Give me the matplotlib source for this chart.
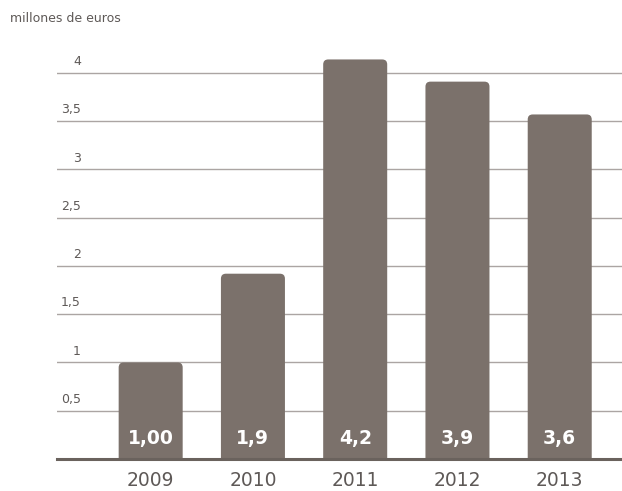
import matplotlib
matplotlib.use("Agg")
import matplotlib.pyplot as plt
from matplotlib.patches import FancyBboxPatch
import matplotlib.transforms as mtransforms

years = ["2009", "2010", "2011", "2012", "2013"]
values = [1.0, 1.92, 4.14, 3.91, 3.57]
value_labels = ["1,00", "1,9", "4,2", "3,9", "3,6"]
yticks = [0.5, 1, 1.5, 2, 2.5, 3, 3.5, 4]
ytick_labels = ["0,5", "1", "1,5", "2", "2,5", "3", "3,5", "4"]
unit_label = "millones de euros"

bar_color = "#7b716b"
grid_color = "#aba5a3"
text_color = "#5e5957"

fig = plt.figure(figsize=(6.22, 4.91), dpi=100)
ax = fig.add_axes([57/622, 32/491, 565/622, 415/491])
ax.set_xlim(-0.916, 4.609)
ax.set_ylim(0, 4.3)

for s in ax.spines.values():
    s.set_visible(False)

# gridlines
for t in yticks:
    ax.axhline(t, color=grid_color, lw=1.0, zorder=1)
ax.axhline(0, color="#6a625d", lw=2.2, zorder=4, clip_on=False)

x = list(range(len(years)))
width = 0.626
bars = ax.bar(x, values, width=width, color=bar_color, zorder=2)
# rounded top corners
r = 5 / 102.25
aspect = 102.25 / 96.5
for b in bars:
    b.set_visible(False)
    x0 = b.get_x()
    h = b.get_height()
    p = FancyBboxPatch((x0, -0.2), b.get_width(), h + 0.2,
                       boxstyle=f"round,pad=0,rounding_size={r}",
                       mutation_aspect=aspect, facecolor=bar_color,
                       edgecolor="none", zorder=2)
    ax.add_patch(p)

for xi, lab in zip(x, value_labels):
    ax.text(xi, 0.215, lab, ha="center", va="center", color="white",
            fontsize=13.5, fontweight="bold", zorder=5)

ax.set_yticks([])
trans = mtransforms.blended_transform_factory(ax.transAxes, ax.transData)
for t, lab in zip(yticks, ytick_labels):
    ax.text(0.0425, t + 0.05, lab, transform=trans, ha="right", va="bottom",
            color=text_color, fontsize=9)

ax.set_xticks(x)
ax.set_xticklabels(years, fontsize=13.5, color=text_color)
ax.tick_params(axis="x", length=0, pad=9)

fig.text(10/622, 1 - 19/491, unit_label, ha="left", va="center",
         color=text_color, fontsize=9)

fig.savefig("out.png", dpi=100)
